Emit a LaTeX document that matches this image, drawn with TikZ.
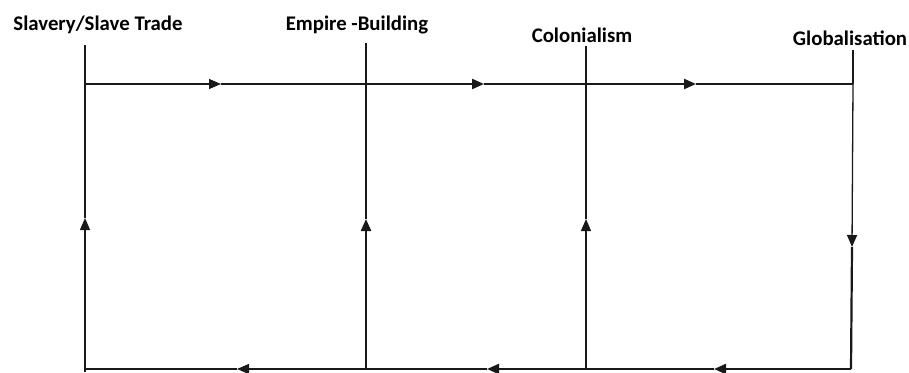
\documentclass[tikz,border=0pt]{standalone}
\usepackage{fontspec}
\setmainfont{Carlito}
\usetikzlibrary{arrows.meta}
\begin{document}
\begin{tikzpicture}[x=1pt,y=-1pt,
  lbl/.style={font=\bfseries\fontsize{20.8}{24}\selectfont, inner sep=0pt, anchor=base},
  thinln/.style={line width=1.3pt, draw=black!90},
  thickln/.style={line width=2.2pt, draw=black!90},
  tip/.style={-{Triangle[length=12pt,width=10pt]}}]
\useasboundingbox (0,0) rectangle (909,372);
% labels
\node[lbl] (l1) at (98,30) {Slavery/Slave Trade};
\node[lbl] (l2) at (357,30) {Empire -Building};
\node[lbl] (l3) at (582,42) {Colonialism};
\node[lbl] (l4) at (850,45) {Globalisation};
% junctions
\coordinate (v1) at (85,45);
\coordinate (v2) at (366,43);
\coordinate (v3) at (586,46);
\coordinate (v4) at (853,50);
\coordinate (t1) at (85,84);
\coordinate (t2) at (366,84);
\coordinate (t3) at (586,84);
\coordinate (t4) at (853,84);
\coordinate (b1) at (85,369);
\coordinate (b2) at (366,369);
\coordinate (b3) at (586,369);
\coordinate (b4) at (851,369);
\coordinate (e1) at (85,372);
% arrow points
\coordinate (a1) at (221,84);
\coordinate (a2) at (484,84);
\coordinate (a3) at (696,84);
\coordinate (d4) at (852,247);
\coordinate (c1) at (237,369);
\coordinate (c2) at (487,369);
\coordinate (c3) at (714,369);
\coordinate (u1) at (85,218);
\coordinate (u2) at (366,219);
\coordinate (u3) at (586,219);
% top line
\draw[thinln,tip] (t1) -- (a1);
\draw[thickln] (a1) -- (t2);
\draw[thickln,tip] (t2) -- (a2);
\draw[thickln] (a2) -- (t3);
\draw[thickln,tip] (t3) -- (a3);
\draw[thickln] (a3) -- (t4);
% right vertical
\draw[thickln] (v4) -- (t4);
\draw[thinln,tip] (t4) -- (d4);
\draw[thickln] (d4) -- (b4);
% bottom line
\draw[thickln,tip] (b4) -- (c3);
\draw[thickln] (c3) -- (b3);
\draw[thickln,tip] (b3) -- (c2);
\draw[thickln] (c2) -- (b2);
\draw[thinln,tip] (b2) -- (c1);
\draw[thinln] (c1) -- (b1);
% verticals going up
\draw[thinln] (e1) -- (b1);
\draw[thinln,tip] (b1) -- (u1);
\draw[thinln] (u1) -- (t1) -- (v1);
\draw[thickln,tip] (b2) -- (u2);
\draw[thinln] (u2) -- (t2) -- (v2);
\draw[thinln,tip] (b3) -- (u3);
\draw[thinln] (u3) -- (t3) -- (v3);
\end{tikzpicture}
\end{document}
